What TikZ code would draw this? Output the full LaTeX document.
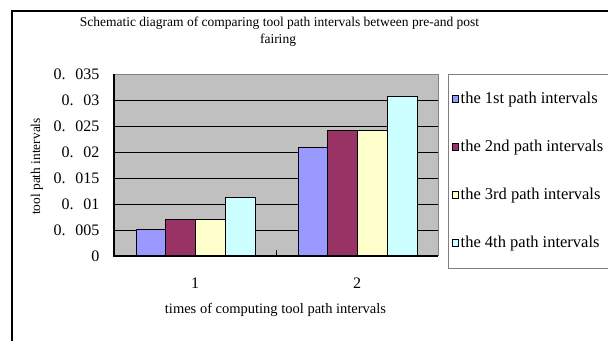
\documentclass[tikz,border=0pt]{standalone}
\usepackage{fontspec}
\setmainfont{Liberation Serif}
\definecolor{plotgrey}{HTML}{C0C0C0}
\definecolor{serA}{HTML}{9999FF}
\definecolor{serB}{HTML}{993366}
\definecolor{serC}{HTML}{FFFFCC}
\definecolor{serD}{HTML}{CCFFFF}
\definecolor{frameline}{HTML}{808080}
\newcommand{\fs}[1]{\fontsize{#1}{#1}\selectfont}
\newcommand{\yval}[1]{0.\hspace{0.6em}#1}
\begin{document}
\begin{tikzpicture}[x=1pt,y=-1pt,
  barbox/.style={draw=black,line width=0.9pt},
  gridln/.style={draw=black,line width=0.9pt},
  ylab/.style={anchor=east,inner sep=0pt,font=\fs{16}},
  xlab/.style={anchor=base,inner sep=0pt,font=\fs{16}},
  legtext/.style={anchor=base west,inner sep=0pt,font=\fs{16.5}},
  legkey/.style={draw=black,line width=0.6pt,minimum size=6.5pt,inner sep=0pt},
  titletext/.style={anchor=base,inner sep=0pt,font=\fs{13.5}}]
\useasboundingbox (0,0) rectangle (608,341);
\fill[white] (0,0) rectangle (608,341);

% outer chart frame (top and left edges)
\draw[line width=1.3pt] (12,341) -- (12,11) -- (609,11);

% title
\node[titletext] (title1) at (279.5,26) {Schematic diagram of comparing tool path intervals between pre-and post};
\node[titletext] (title2) at (278,43) {fairing};

% plot area
\fill[plotgrey] (114,74) rectangle (438,256);
\draw[frameline,line width=1pt] (114,74) -- (438,74) -- (438,256);
\foreach \k in {1,...,6}
  \draw[gridln] (114,256-26*\k) -- (438,256-26*\k);

% bars: group 1 and group 2
\foreach \xa/\v/\c in {136/0.00513/serA, 165.75/0.00698/serB, 195.5/0.00698/serC, 225.25/0.01135/serD,
                       298/0.02096/serA, 327.75/0.02417/serB, 357.5/0.02417/serC, 387.25/0.03077/serD}
  \filldraw[barbox,fill=\c] (\xa,256) rectangle (\xa+29.75,256-5200*\v);

% axes
\draw[black,line width=1.2pt] (114,74) -- (114,256) -- (438,256);
\draw[black,line width=1pt] (276,250) -- (276,256);

% y tick labels
\node[ylab] (y0) at (99.5,256) {0};
\node[ylab] (y1) at (99.5,230) {\yval{005}};
\node[ylab] (y2) at (99.5,204) {\yval{01}};
\node[ylab] (y3) at (99.5,178) {\yval{015}};
\node[ylab] (y4) at (99.5,152) {\yval{02}};
\node[ylab] (y5) at (99.5,126) {\yval{025}};
\node[ylab] (y6) at (99.5,100) {\yval{03}};
\node[ylab] (y7) at (99.5,74) {\yval{035}};

% axis titles
\node[rotate=90,inner sep=0pt,font=\fs{13.4}] (ytitle) at (37,166.5) {tool path intervals};
\node[xlab] (x1) at (195,288.3) {1};
\node[xlab] (x2) at (357,288.3) {2};
\node[anchor=base,inner sep=0pt,font=\fs{14.5}] (xtitle) at (275.5,313) {times of computing tool path intervals};

% legend
\draw[frameline,line width=1pt] (612,74) -- (448,74) -- (448,268) -- (612,268);
\foreach \yy/\c/\t [count=\i] in {99/serA/the 1st path intervals, 147/serB/the 2nd path intervals,
                                  195/serC/the 3rd path intervals, 243/serD/the 4th path intervals} {
  \node[legkey,fill=\c] (key\i) at (455.5,\yy) {};
  \node[legtext] (leg\i) at (460.5,\yy+4) {\t};
}
\end{tikzpicture}
\end{document}
